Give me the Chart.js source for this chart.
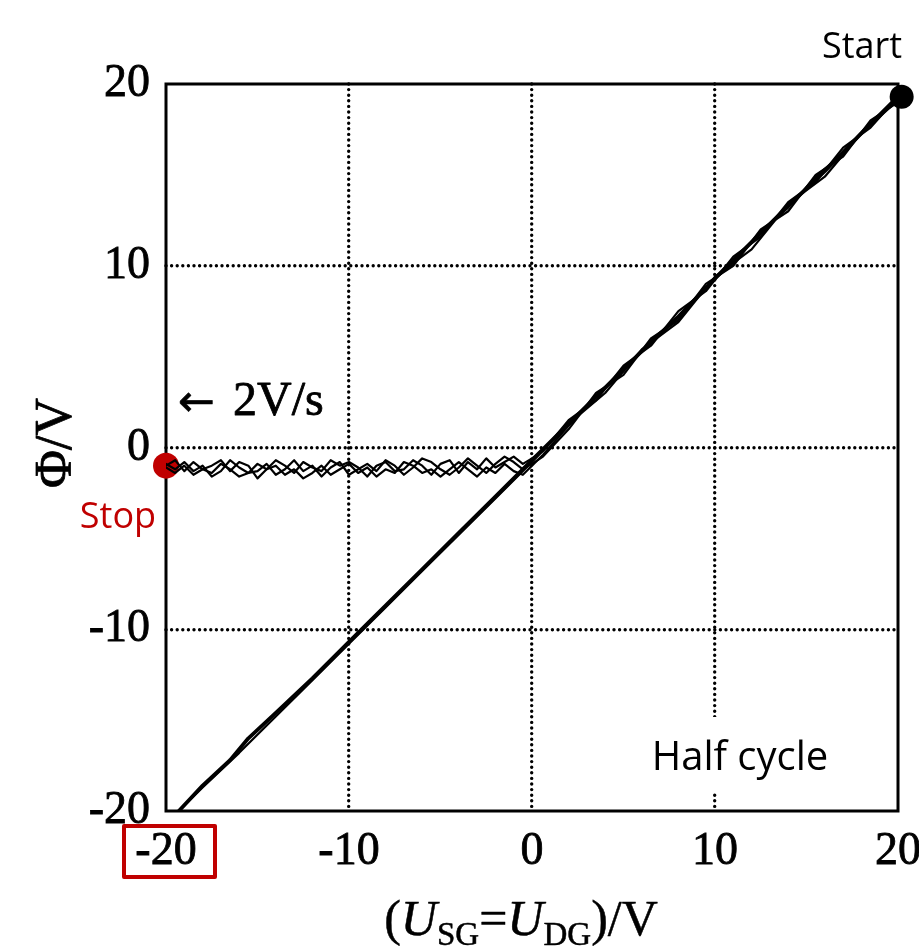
<!DOCTYPE html>
<html><head><meta charset="utf-8">
<script src="https://cdn.jsdelivr.net/npm/chart.js@4/dist/chart.umd.min.js"></script>
<style>html,body{margin:0;padding:0;background:#fff;}#wrap{width:919px;height:952px;position:relative;}</style>
</head><body><div id="wrap"><canvas id="c" width="919" height="952"></canvas></div>
<script>
// ---- data ----
const xTickValues = [-20, -10, 0, 10, 20];
const yTickValues = [-20, -10, 0, 10, 20];

// first full sweep 20 -> -20 along the diagonal
const downX = [20, 18, 16, 14, 12, 10, 8, 6, 4, 2, 0, -2, -4, -6, -8, -10, -12, -14, -15.5, -16.5, -18, -19.3];
const downY = [19.3, 17.3, 15.2, 13.3, 11.3, 9.3, 7.2, 5.3, 3.3, 1.3, -0.7, -2.7, -4.7, -6.7, -8.7, -10.7, -12.7, -14.6, -16.0, -17.2, -18.6, -20];
// sweep back -20 -> 20
const upX = [-19.3, -18, -16, -14, -12, -10, -8, -6, -4, -2, 0, 2, 4, 6, 8, 10, 12, 14, 16, 18, 20];
const upY = [-20, -18.7, -16.8, -14.8, -12.8, -10.8, -8.8, -6.8, -4.8, -2.8, -0.8, 1.3, 3.0, 5.4, 6.9, 9.4, 10.9, 13.4, 14.9, 17.3, 19.1];

// later cycles: diagonal from 20 to ~0, then flat near -1 V down to -20
const cycleX = [20, 18.5, 17, 15.5, 14, 12.5, 11, 9.5, 8, 6.5, 5, 3.5, 2, 0.6,
  0, -0.5, -1, -1.5, -2, -2.5, -3, -3.5, -4, -4.5, -5, -5.5, -6, -6.5, -7, -7.5, -8, -8.5, -9, -9.5, -10,
  -10.5, -11, -11.5, -12, -12.5, -13, -13.5, -14, -14.5, -15, -15.5, -16, -16.5, -17, -17.5, -18, -18.5, -19, -19.5, -20];
const cycle1Y = [19.3, 17.6, 16.5, 14.6, 13.5, 11.6, 10.5, 8.6, 7.5, 5.6, 4.5, 2.6, 1.5, -0.2,
  -0.6, -0.9, -0.5, -0.8, -1.1, -0.6, -1.2, -0.8, -1.4, -0.7, -0.9, -1.5, -1.0, -0.7, -1.2, -1.3, -0.8, -1.0, -1.6, -1.1, -0.8,
  -1.0, -0.7, -1.3, -1.1, -0.8, -1.4, -1.0, -0.7, -1.2, -1.7, -1.0, -0.8, -1.3, -0.7, -1.0, -1.2, -0.8, -1.3, -0.7, -1.0];
const cycle2Y = [19.0, 18.0, 16.0, 15.0, 13.0, 12.0, 10.0, 9.0, 7.0, 6.0, 4.0, 3.0, 1.0, -0.5,
  -0.9, -1.2, -0.8, -0.5, -0.9, -1.4, -1.0, -0.6, -1.1, -1.5, -1.2, -0.8, -0.6, -1.1, -1.5, -1.0, -0.7, -1.3, -0.9, -1.2, -1.5,
  -0.8, -1.1, -1.6, -1.0, -1.3, -0.7, -1.2, -1.5, -0.9, -1.3, -1.4, -1.1, -0.7, -1.3, -1.6, -1.0, -1.3, -0.8, -1.2, -0.9];
const cycle3Y = [19.2, 17.8, 16.2, 14.9, 13.2, 11.9, 10.2, 8.8, 7.2, 5.9, 4.2, 2.8, 1.2, -0.4,
  -1.0, -1.5, -1.3, -0.9, -1.4, -1.1, -1.6, -1.2, -0.8, -1.2, -1.6, -1.2, -1.4, -1.0, -0.8, -1.4, -1.2, -1.6, -1.1, -1.4, -0.9,
  -1.2, -1.5, -1.0, -1.4, -1.7, -1.2, -1.5, -1.0, -1.2, -0.9, -1.4, -1.6, -1.2, -0.9, -1.4, -1.2, -1.5, -1.0, -1.4, -1.1];

const startPoint = [20.2, 19.3];
const stopPoint = [-20, -1.0];

// ---- helpers ----
const pts = (xs, ys) => xs.map((x, i) => ({x, y: ys[i]}));
const SERIF = '"Liberation Serif", "DejaVu Serif", serif';
const SANS = '"Open Sans", "Noto Sans", sans-serif';
const RED = '#c00000';

const lineDs = (data, w) => ({data, showLine: true, borderColor: '#000', borderWidth: w, pointRadius: 0, tension: 0, borderJoinStyle: 'round', borderCapStyle: 'round'});

function strokeFill(ctx, text, x, y, sw) {
  ctx.lineWidth = sw;
  ctx.strokeStyle = ctx.fillStyle;
  ctx.lineJoin = 'round';
  ctx.strokeText(text, x, y);
  ctx.fillText(text, x, y);
}

const decor = {
  id: 'decor',
  beforeDraw(chart) { chart.ctx.lineCap = 'round'; },
  beforeDatasetsDraw(chart) {
    const {ctx, chartArea: a, scales} = chart;
    ctx.lineCap = 'butt';
    ctx.save();
    ctx.setLineDash([]);
    // white box behind "Half cycle"
    const hx = scales.x.getPixelForValue(10);
    ctx.fillStyle = '#fff';
    ctx.fillRect(hx - 90, 717, 185, 75);
    // frame
    ctx.strokeStyle = '#000';
    ctx.lineWidth = 3;
    ctx.strokeRect(a.left, a.top, a.right - a.left, a.bottom - a.top);
    ctx.restore();
  },
  afterDraw(chart) {
    const {ctx, scales} = chart;
    ctx.save();
    ctx.fillStyle = '#000';
    ctx.textBaseline = 'alphabetic';
    ctx.textAlign = 'center';
    // Start / Stop / Half cycle
    ctx.font = '36px ' + SANS;
    ctx.fillText('Start', 862, 58);
    ctx.fillStyle = RED;
    ctx.fillText('Stop', 118, 528);
    ctx.fillStyle = '#000';
    ctx.font = '40px ' + SANS;
    ctx.fillText('Half cycle', scales.x.getPixelForValue(10) + 25, 770);
    // rate annotation
    ctx.textAlign = 'left';
    ctx.font = '44px "DejaVu Sans", sans-serif';
    strokeFill(ctx, '\u2190', 178, 416, 0.6);
    ctx.font = '48px ' + SERIF;
    strokeFill(ctx, '2V/s', 233, 415, 0.8);
    // red box around the -20 tick label
    const bx = scales.x.getPixelForValue(-20);
    ctx.strokeStyle = RED;
    ctx.lineWidth = 4;
    ctx.lineJoin = 'round';
    ctx.strokeRect(bx - 42, 826, 91, 51);
    // y title
    ctx.save();
    ctx.translate(71, 443);
    ctx.rotate(-Math.PI / 2);
    ctx.textAlign = 'center';
    ctx.font = '52px ' + SERIF;
    ctx.fillStyle = '#000';
    strokeFill(ctx, '\u03A6/V', 0, 0, 0.8);
    ctx.restore();
    // x title with subscripts
    const parts = [
      ['(', 'normal 50px ' + SERIF, 0],
      ['U', 'italic 50px ' + SERIF, 0],
      ['SG', 'normal 33px ' + SERIF, 10],
      ['=', 'normal 50px ' + SERIF, 0],
      ['U', 'italic 50px ' + SERIF, 0],
      ['DG', 'normal 33px ' + SERIF, 10],
      [')/V', 'normal 50px ' + SERIF, 0]
    ];
    let total = 0;
    for (const p of parts) { ctx.font = p[1]; total += ctx.measureText(p[0]).width; }
    let x = 521 - total / 2;
    ctx.textAlign = 'left';
    ctx.fillStyle = '#000';
    for (const p of parts) { ctx.font = p[1]; strokeFill(ctx, p[0], x, 935 + p[2], 0.5); x += ctx.measureText(p[0]).width; }
    ctx.restore();
  }
};

const gridColor = c => (c.tick && (c.tick.value === -20 || c.tick.value === 20)) ? 'rgba(0,0,0,0)' : '#000';

new Chart(document.getElementById('c'), {
  type: 'scatter',
  data: {
    datasets: [
      lineDs(pts(downX, downY), 3.8),
      lineDs(pts(upX, upY), 2.2),
      lineDs(pts(cycleX, cycle1Y), 2.2),
      lineDs(pts(cycleX, cycle2Y), 2.2),
      lineDs(pts(cycleX, cycle3Y), 2.2),
      {data: [{x: startPoint[0], y: startPoint[1]}], pointRadius: 12, pointBackgroundColor: '#000', pointBorderWidth: 0, clip: false},
      {data: [{x: stopPoint[0], y: stopPoint[1]}], pointRadius: 13, pointBackgroundColor: RED, pointBorderWidth: 0, clip: false}
    ]
  },
  options: {
    responsive: false,
    animation: false,
    devicePixelRatio: 1,
    layout: {padding: {left: 0, right: 21, top: 84, bottom: 0}},
    plugins: {legend: {display: false}, tooltip: {enabled: false}},
    scales: {
      x: {
        type: 'linear', min: -20, max: 20,
        afterBuildTicks: s => { s.ticks = xTickValues.map(v => ({value: v})); },
        afterFit: s => { s.height = 141; s.paddingLeft = 0; s.paddingRight = 0; },
        ticks: {color: '#000', font: {family: SERIF, size: 46}, padding: 13, maxRotation: 0, autoSkip: false,
                textStrokeColor: '#000', textStrokeWidth: 0.8, callback: v => String(v)},
        grid: {color: gridColor, lineWidth: 3.4, drawTicks: false},
        border: {display: false, dash: [0, 5.6]}
      },
      y: {
        type: 'linear', min: -20, max: 20,
        afterBuildTicks: s => { s.ticks = yTickValues.map(v => ({value: v})); },
        afterFit: s => { s.width = 166; s.paddingTop = 0; s.paddingBottom = 0; },
        ticks: {color: '#000', font: {family: SERIF, size: 46}, padding: 16, autoSkip: false,
                textStrokeColor: '#000', textStrokeWidth: 0.8, callback: v => String(v)},
        grid: {color: gridColor, lineWidth: 3.4, drawTicks: false},
        border: {display: false, dash: [0, 5.6]}
      }
    }
  },
  plugins: [decor]
});
</script>
</body></html>
